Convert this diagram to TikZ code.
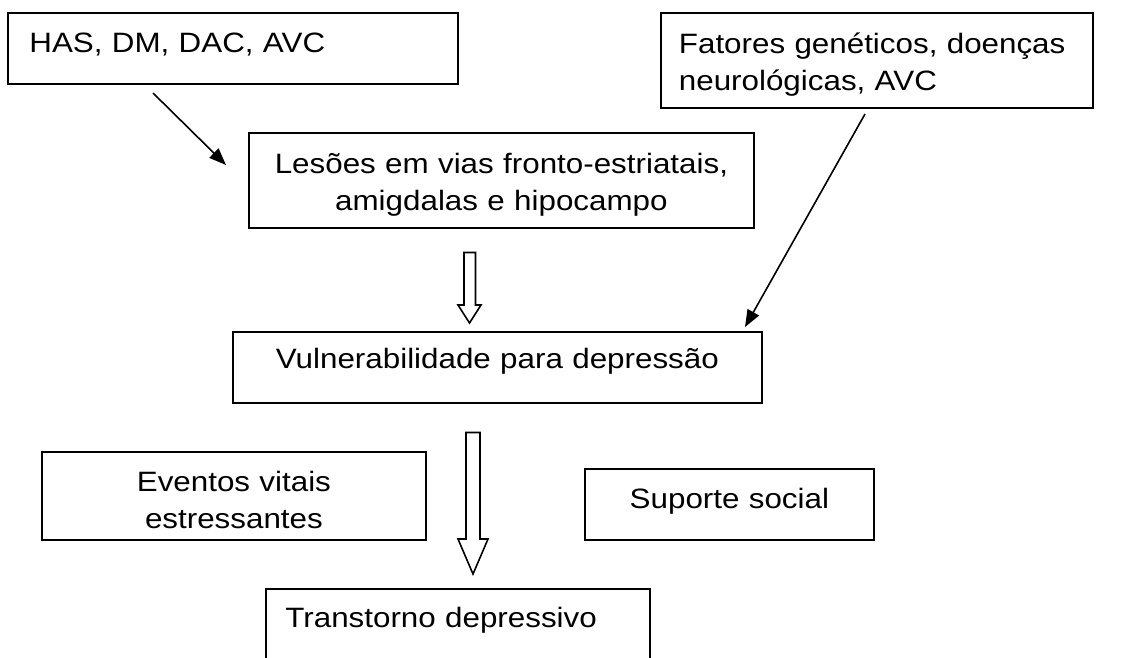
\documentclass[tikz,border=0pt]{standalone}
\usepackage{fontspec}
\setmainfont{Liberation Sans}[FakeStretch=1.12]
\usetikzlibrary{arrows.meta}

\tikzset{
  box/.style={draw, line width=1.8pt, inner ysep=0pt, anchor=north west, font=\fontsize{28}{37}\selectfont},
  thin arrow/.style={line width=1.6pt, -{Triangle[length=17pt,width=13pt]}},
  hollow/.style={draw, line width=1.6pt, line join=miter, fill=white}
}

\begin{document}
\begin{tikzpicture}[x=1pt,y=1pt,yscale=-1]
\path [use as bounding box, fill=white] (0,0) rectangle (1131,657);
\clip (0,0) rectangle (1131,657);

%Shape: Rectangle
\node [box, inner xsep=21.5pt, text width=407pt, text height=40pt, text depth=31pt, align=left] (has) at (7,12) {HAS, DM, DAC, AVC};
%Shape: Rectangle
\node [box, inner xsep=18pt, text width=396pt, text height=41pt, text depth=54pt, align=left] (fatores) at (660,12) {Fatores genéticos, doenças\\neurológicas, AVC};
%Shape: Rectangle
\node [box, inner xsep=10pt, text width=485pt, text height=41pt, text depth=54pt, align=center] (lesoes) at (248,132) {Lesões em vias fronto-estriatais,\\amigdalas e hipocampo};
%Shape: Rectangle
\node [box, inner xsep=10pt, text width=509pt, text height=37pt, text depth=34pt, align=center] (vuln) at (232,331) {Vulnerabilidade para depressão};
%Shape: Rectangle
\node [box, inner xsep=10pt, text width=364pt, text height=40pt, text depth=48pt, align=center] (eventos) at (41,451) {Eventos vitais\\estressantes};
%Shape: Rectangle
\node [box, inner xsep=10pt, text width=269pt, text height=40pt, text depth=31pt, align=center] (suporte) at (584,468) {Suporte social};
%Shape: Rectangle
\node [box, inner xsep=19.5pt, text width=345pt, text height=39pt, text depth=50pt, align=left] (transtorno) at (265,588) {Transtorno depressivo};

%Straight Lines
\coordinate (hasend) at (153,93);
\coordinate (lesoestip) at (226,165);
\draw [thin arrow] (hasend) -- (lesoestip);
%Straight Lines
\coordinate (fatoresend) at (865,114);
\coordinate (vulntip) at (745,327);
\draw [thin arrow] (fatoresend) -- (vulntip);

%Shape: Down Arrow
\draw [hollow] (464,252.5) -- (464,305) -- (458,305) -- (469.5,323) -- (481,305) -- (475.5,305) -- (475.5,252.5) -- cycle;
%Shape: Down Arrow
\draw [hollow] (466,432.5) -- (466,539) -- (458,539) -- (473,574) -- (488,539) -- (480,539) -- (480,432.5) -- cycle;

\end{tikzpicture}
\end{document}
